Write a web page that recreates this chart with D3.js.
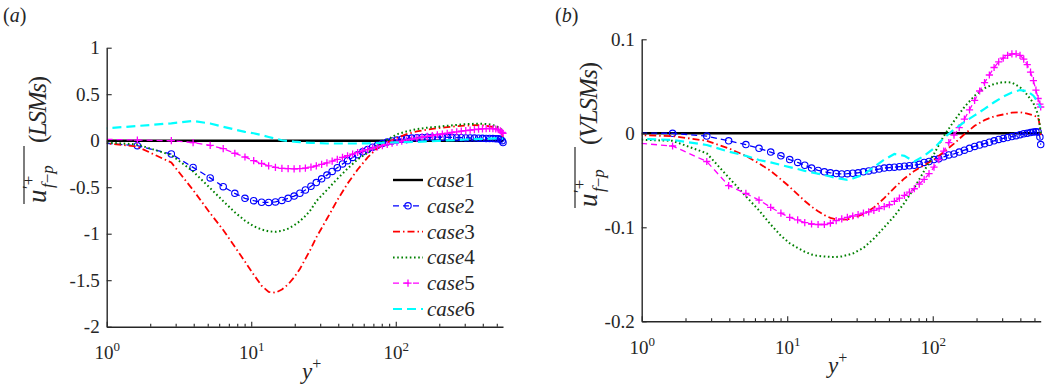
<!DOCTYPE html>
<html>
<head>
<meta charset="utf-8">
<script src="https://cdn.jsdelivr.net/npm/d3@7"></script>
<style>
  body { margin: 0; background: #fff; }
  svg { display: block; }
</style>
</head>
<body>
<svg id="chart" width="1060" height="390"></svg>
<script>
// wall-normal grid (y+) used by the line-only cases
const yPlus = [0.45, 1.63, 2.8, 3.96, 5.2, 6.4, 7.7, 9.05, 10.4, 11.8, 13.2, 14.7, 16.3, 18.0, 19.8, 21.7, 23.7, 25.9, 28.2,
  33.4, 39.4, 46.4, 54.5, 63.9, 74.7, 87.3, 102, 119, 140, 165, 194, 227, 264, 305, 350, 398, 446, 492, 530, 545, 552];

// finer grid for the cases drawn with markers
const yPlusMk = [0.45, 1.63, 2.8, 3.96, 5.2, 6.4, 7.7, 9.05, 10.4, 11.8,
  13.2, 14.7, 16.3, 18.0, 19.8, 21.7, 23.7, 25.9, 28.2, 30.7,
  33.4, 36.3, 39.4, 42.8, 46.4, 50.3, 54.5, 59.0, 63.9, 69.1,
  74.7, 80.8, 87.3, 94.3, 102, 110, 119, 129, 140, 152,
  165, 179, 194, 210, 227, 245, 264, 284, 305, 327,
  350, 374, 398, 422, 446, 470, 492, 512, 530, 545, 552];

// case1 is the reference: zero everywhere
const yPlusRef = [1, 552];
const ref = [0, 0];

// (a) LSMs
const lsm2 = [0.015, -0.054, -0.143, -0.287, -0.40, -0.494, -0.566, -0.62, -0.645, -0.662,
  -0.664, -0.658, -0.642, -0.62, -0.595, -0.565, -0.53, -0.49, -0.45, -0.41,
  -0.37, -0.33, -0.29, -0.25, -0.215, -0.18, -0.15, -0.12, -0.095, -0.07,
  -0.05, -0.03, -0.015, -0.003, 0.008, 0.016, 0.023, 0.028, 0.032, 0.035,
  0.037, 0.038, 0.038, 0.037, 0.036, 0.035, 0.033, 0.032, 0.03, 0.029,
  0.028, 0.027, 0.026, 0.025, 0.024, 0.023, 0.022, 0.02, 0.015, 0.0, -0.02];
const lsm3 = [0.03, -0.064, -0.235, -0.53, -0.78, -0.96, -1.14, -1.30, -1.44, -1.56, -1.625, -1.635, -1.60, -1.545,
  -1.47, -1.38, -1.27, -1.16, -1.04, -0.84, -0.64, -0.46, -0.31, -0.18, -0.08, -0.02, 0.03, 0.07, 0.10, 0.12,
  0.135, 0.145, 0.155, 0.162, 0.168, 0.165, 0.155, 0.14, 0.10, 0.07, 0.03];
const lsm4 = [0.013, -0.04, -0.155, -0.33, -0.51, -0.65, -0.77, -0.86, -0.92, -0.955, -0.975, -0.98, -0.97, -0.945,
  -0.91, -0.865, -0.81, -0.74, -0.65, -0.53, -0.41, -0.30, -0.20, -0.13, -0.05, 0.01, 0.07, 0.10, 0.125, 0.14,
  0.15, 0.16, 0.17, 0.178, 0.182, 0.182, 0.175, 0.16, 0.13, 0.10, 0.06];
const lsm5 = [0.028, 0.007, 0.0, -0.02, -0.05, -0.085, -0.135, -0.175, -0.215, -0.245,
  -0.27, -0.287, -0.297, -0.30, -0.302, -0.30, -0.295, -0.285, -0.27, -0.255,
  -0.238, -0.22, -0.20, -0.18, -0.162, -0.145, -0.127, -0.11, -0.095, -0.08,
  -0.066, -0.052, -0.04, -0.027, -0.015, -0.004, 0.007, 0.018, 0.028, 0.038,
  0.047, 0.056, 0.064, 0.072, 0.08, 0.088, 0.095, 0.102, 0.108, 0.114,
  0.119, 0.124, 0.128, 0.13, 0.131, 0.13, 0.126, 0.118, 0.105, 0.09, 0.08];
const lsm6 = [0.092, 0.158, 0.187, 0.212, 0.185, 0.15, 0.12, 0.095, 0.08, 0.06, 0.04, 0.022, 0.005, -0.003,
  -0.01, -0.015, -0.02, -0.023, -0.025, -0.03, -0.03, -0.03, -0.03, -0.028, -0.025, -0.02, -0.018, -0.015, -0.012, -0.008,
  -0.003, 0.003, 0.008, 0.013, 0.017, 0.02, 0.022, 0.024, 0.024, 0.022, 0.02];

// (b) VLSMs
const vlsm2 = [0.0005, 0.0, -0.003, -0.008, -0.012, -0.016, -0.020, -0.024, -0.028, -0.031,
  -0.034, -0.037, -0.0395, -0.041, -0.042, -0.0428, -0.0432, -0.043, -0.0425, -0.042,
  -0.041, -0.040, -0.039, -0.038, -0.037, -0.0365, -0.036, -0.0355, -0.035, -0.0345,
  -0.034, -0.033, -0.031, -0.030, -0.028, -0.027, -0.025, -0.023, -0.022, -0.020,
  -0.018, -0.016, -0.014, -0.0125, -0.011, -0.0095, -0.008, -0.0065, -0.0055, -0.0045,
  -0.0035, -0.0025, -0.0015, -0.0005, 0.0, 0.0008, 0.0013, 0.0016, 0.0015, -0.004, -0.012];
const vlsm3 = [-0.0005, -0.003, -0.008, -0.016, -0.024, -0.032, -0.040, -0.049, -0.057, -0.065, -0.072, -0.078, -0.083, -0.087,
  -0.090, -0.0915, -0.092, -0.0915, -0.090, -0.086, -0.079, -0.069, -0.058, -0.048, -0.040, -0.034, -0.028, -0.020, -0.011, -0.001,
  0.008, 0.014, 0.018, 0.020, 0.022, 0.0225, 0.021, 0.019, 0.017, 0.008, -0.002];
const vlsm4 = [-0.005, -0.008, -0.0213, -0.047, -0.067, -0.082, -0.097, -0.109, -0.117, -0.122, -0.126, -0.129, -0.1305, -0.131,
  -0.1315, -0.1315, -0.131, -0.1295, -0.128, -0.122, -0.112, -0.100, -0.088, -0.074, -0.058, -0.040, -0.022, -0.003, 0.013, 0.028,
  0.040, 0.048, 0.0525, 0.0545, 0.054, 0.049, 0.041, 0.032, 0.020, 0.008, 0.0];
const vlsm5 = [-0.0065, -0.0135, -0.030, -0.0557, -0.064, -0.071, -0.0787, -0.085, -0.0894, -0.0922,
  -0.095, -0.0965, -0.097, -0.097, -0.0957, -0.093, -0.091, -0.0895, -0.088, -0.0865,
  -0.085, -0.0835, -0.082, -0.080, -0.078, -0.076, -0.0725, -0.069, -0.066, -0.0625,
  -0.059, -0.054, -0.049, -0.043, -0.036, -0.028, -0.019, -0.010, -0.002, 0.006,
  0.015, 0.025, 0.035, 0.045, 0.054, 0.062, 0.070, 0.076, 0.080, 0.083,
  0.0845, 0.0845, 0.083, 0.079, 0.073, 0.065, 0.056, 0.046, 0.037, 0.031, 0.028];
const vlsm6 = [-0.004, -0.007, -0.0124, -0.0195, -0.024, -0.0284, -0.031, -0.0337, -0.036, -0.038, -0.040, -0.0415, -0.043, -0.0445,
  -0.046, -0.0475, -0.0485, -0.0495, -0.048, -0.044, -0.036, -0.028, -0.022, -0.024, -0.030, -0.024, -0.016, -0.005, 0.004, 0.012,
  0.019, 0.026, 0.033, 0.039, 0.0435, 0.046, 0.045, 0.040, 0.033, 0.029, 0.027];

const caseNames = ["case1", "case2", "case3", "case4", "case5", "case6"];
const lsmTicks = [-2, -1.5, -1, -0.5, 0, 0.5, 1];
const vlsmTicks = [-0.2, -0.1, 0, 0.1];
const decadeTicks = [1, 10, 100];
const minorTicks = [2, 3, 4, 5, 6, 7, 8, 9, 20, 30, 40, 50, 60, 70, 80, 90, 200, 300, 400, 500];

const serif = "Liberation Serif";
const axisColor = "#262626";
const styles = [
  { color: "#000000", width: 2.4, dash: null, marker: null },
  { color: "#0000ff", width: 1.3, dash: "6,4", marker: "o" },
  { color: "#ff0000", width: 1.8, dash: "7,3,1.5,3", marker: null },
  { color: "#008000", width: 2.0, dash: "1.6,2.6", marker: null },
  { color: "#ff00ff", width: 1.3, dash: "6,4", marker: "+" },
  { color: "#00ffff", width: 2.2, dash: "9,5", marker: null }
];

const panels = [
  {
    tag: "a", word: "LSMs", wordLen: 67,
    left: 106.7, right: 503, top: 47.7, bottom: 326.7,
    yDomain: [-2, 1], yTicks: lsmTicks,
    lab: { x: 46, y: 140, u: -63, bar: [-64, -6], word: -3 },
    xlab: 302, tagX: 3,
    series: [[yPlusRef, ref], [yPlusMk, lsm2], [yPlus, lsm3], [yPlus, lsm4], [yPlusMk, lsm5], [yPlus, lsm6]]
  },
  {
    tag: "b", word: "VLSMs", wordLen: 83,
    left: 641.7, right: 1040.7, top: 39.3, bottom: 321.3,
    yDomain: [-0.2, 0.1], yTicks: vlsmTicks,
    lab: { x: 597, y: 135, u: -72, bar: [-73, -12], word: -10 },
    xlab: 828, tagX: 555,
    series: [[yPlusRef, ref], [yPlusMk, vlsm2], [yPlus, vlsm3], [yPlus, vlsm4], [yPlusMk, vlsm5], [yPlus, vlsm6]]
  }
];

const svg = d3.select("#chart");
svg.append("rect").attr("width", 1060).attr("height", 390).attr("fill", "#fff");

const drawMarker = (sel, kind, color) => {
  if (kind === "o") {
    sel.append("circle").attr("r", 3.2).attr("fill", "none")
      .attr("stroke", color).attr("stroke-width", 1.1);
  } else if (kind === "+") {
    sel.append("path").attr("d", "M-3.6,0H3.6M0,-3.6V3.6")
      .attr("stroke", color).attr("stroke-width", 1.3).attr("fill", "none");
  }
};

panels.forEach(p => {
  const x = d3.scaleLog().domain([1, 552]).range([p.left, p.right]);
  const y = d3.scaleLinear().domain(p.yDomain).range([p.bottom, p.top]);

  const clipId = "clip-" + p.tag;
  svg.append("clipPath").attr("id", clipId)
    .append("rect")
    .attr("x", p.left).attr("y", p.top - 30)
    .attr("width", p.right - p.left + 20).attr("height", p.bottom - p.top + 60);

  const plot = svg.append("g").attr("clip-path", `url(#${clipId})`);
  const line = d3.line().x(d => x(d[0])).y(d => y(d[1]));

  p.series.forEach(([xs, vals], i) => {
    const st = styles[i];
    const pts = d3.zip(xs, vals);
    plot.append("path")
      .datum(pts)
      .attr("d", line)
      .attr("fill", "none")
      .attr("stroke", st.color)
      .attr("stroke-width", st.width)
      .attr("stroke-dasharray", st.dash);
    if (st.marker) {
      const mk = plot.append("g").selectAll("g")
        .data(pts)
        .join("g")
        .attr("transform", d => `translate(${x(d[0])},${y(d[1])})`);
      drawMarker(mk, st.marker, st.color);
    }
  });

  // axes: left and bottom only, ticks pointing inward
  const yAxis = svg.append("g")
    .attr("transform", `translate(${p.left},0)`)
    .call(d3.axisLeft(y).tickValues(p.yTicks).tickSizeInner(-5).tickSizeOuter(0)
      .tickPadding(7).tickFormat(d => String(d)));

  const xMinor = svg.append("g")
    .attr("transform", `translate(0,${p.bottom})`)
    .call(d3.axisBottom(x).tickValues(minorTicks).tickSizeInner(-3).tickSizeOuter(0).tickFormat(""));
  xMinor.select(".domain").remove();

  const xAxis = svg.append("g")
    .attr("transform", `translate(0,${p.bottom})`)
    .call(d3.axisBottom(x).tickValues(decadeTicks).tickSizeInner(-5).tickSizeOuter(0)
      .tickPadding(19).tickFormat(""));

  xAxis.selectAll(".tick text").each(function (d) {
    const t = d3.select(this);
    t.append("tspan").text("10");
    t.append("tspan").attr("dy", -8).attr("font-size", 13).text(Math.round(Math.log10(d)));
  });

  [yAxis, xAxis, xMinor].forEach(g => {
    g.attr("color", axisColor)
      .attr("font-family", serif)
      .attr("font-size", 19);
    g.selectAll(".domain").attr("stroke-width", 1.4);
    g.selectAll(".tick line").attr("stroke-width", 1.1);
    g.selectAll(".tick text").attr("fill", axisColor);
  });

  // x label
  const xl = svg.append("text").attr("x", p.xlab).attr("y", p.bottom + 52).attr("font-size", 23);
  xl.append("tspan").attr("font-style", "italic").text("y");
  xl.append("tspan").attr("dy", -10).attr("font-size", 16).text("+");

  // y label, rotated
  const L = p.lab;
  const yl = svg.append("g").attr("transform", `translate(${L.x},${L.y}) rotate(-90)`);
  yl.append("text").attr("x", L.u).attr("y", 0).attr("font-size", 27)
    .attr("font-style", "italic").text("u");
  yl.append("text").attr("x", L.u + 14).attr("y", -12).attr("font-size", 17).text("\u2032+");
  const sub = yl.append("text").attr("x", L.u + 15).attr("y", 7).attr("font-size", 17);
  sub.append("tspan").attr("font-style", "italic").text("f");
  sub.append("tspan").text("\u2212");
  sub.append("tspan").attr("font-style", "italic").text("p");
  yl.append("line")
    .attr("x1", L.bar[0]).attr("x2", L.bar[1])
    .attr("y1", -22).attr("y2", -22)
    .attr("stroke", axisColor).attr("stroke-width", 1.2);
  const w = yl.append("text").attr("x", L.word).attr("y", 0).attr("font-size", 25)
    .attr("textLength", p.wordLen).attr("lengthAdjust", "spacing");
  w.append("tspan").text("(");
  w.append("tspan").attr("font-style", "italic").text(p.word);
  w.append("tspan").text(")");

  // panel tag
  const tg = svg.append("text").attr("x", p.tagX).attr("y", 22).attr("font-size", 20);
  tg.append("tspan").text("(");
  tg.append("tspan").attr("font-style", "italic").text(p.tag);
  tg.append("tspan").text(")");
});

// legend (panel a)
const legend = svg.append("g").attr("transform", "translate(393,180)");
const rows = legend.selectAll("g")
  .data(caseNames)
  .join("g")
  .attr("transform", (d, i) => `translate(0,${i * 25.8})`);

rows.append("line")
  .attr("x1", 0).attr("x2", 30)
  .attr("stroke", (d, i) => styles[i].color)
  .attr("stroke-width", (d, i) => styles[i].width)
  .attr("stroke-dasharray", (d, i) => styles[i].dash);

rows.each(function (d, i) {
  if (styles[i].marker) {
    const m = d3.select(this).append("g").attr("transform", "translate(15,0)");
    drawMarker(m, styles[i].marker, styles[i].color);
  }
});

const lt = rows.append("text").attr("x", 34).attr("y", 7).attr("font-size", 21);
lt.append("tspan").attr("font-style", "italic").text(d => d.slice(0, 4));
lt.append("tspan").text(d => d.slice(4));

// one serif face for every text, set directly on each element
svg.selectAll("text")
  .style("font-family", serif)
  .style("fill", axisColor);
</script>
</body>
</html>
